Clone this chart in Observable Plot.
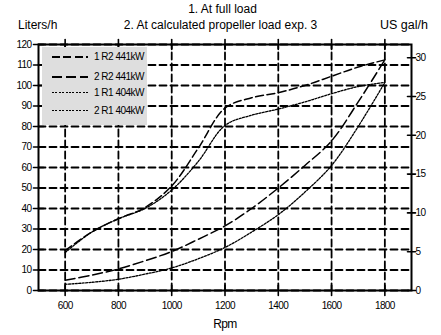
<!DOCTYPE html>
<html>
<head>
<meta charset="utf-8">
<script src="https://cdn.jsdelivr.net/npm/d3@7"></script>
<script src="https://cdn.jsdelivr.net/npm/@observablehq/plot@0.6"></script>
<style>
  html, body { margin: 0; padding: 0; background: #fff; }
  #wrap { position: relative; width: 441px; height: 335px; font-family: "Liberation Sans", Arial, sans-serif; color: #000; }
  #header { position: relative; width: 441px; height: 36px; }
  #header span { position: absolute; font-size: 12px; line-height: 14px; white-space: nowrap; }
  .chart text { letter-spacing: -0.6px; }
  #legend { position: absolute; left: 42px; top: 47px; width: 105px; height: 78px; background: #dedede; }
  #legend .row { position: absolute; left: 0; width: 105px; height: 14px; }
  #legend .sw { position: absolute; left: 10px; top: 6px; width: 36px; }
  #legend .lbl { position: absolute; left: 52px; top: 0; font-size: 10px; line-height: 14px; letter-spacing: -0.5px; white-space: nowrap; }
</style>
</head>
<body>
<div id="wrap">
  <div id="header">
    <span style="left:0;width:445px;text-align:center;top:2px;">1. At full load</span>
    <span style="left:0;width:441px;text-align:center;top:18px;">2. At calculated propeller load exp. 3</span>
    <span style="left:18px;top:18px;">Liters/h</span>
    <span style="left:380px;top:18px;font-size:12.5px;">US gal/h</span>
  </div>
  <div id="chart"></div>
  <div id="legend"></div>
</div>
<script>
// ---- data ----
const rpm    = [600, 700, 800, 900, 1000, 1100, 1200, 1300, 1400, 1500, 1600, 1700, 1800];
const fullR2 = [19.5, 28.5, 35, 40.5, 51, 69.5, 89, 94, 96.5, 100, 104.5, 109, 112.5];
const fullR1 = [18.5, 28.5, 35, 40, 49, 63, 80.5, 85.5, 88.5, 92, 96, 99.5, 101.5];
const propR2 = [5, 7.5, 10.5, 14.5, 19, 25, 31.5, 40, 50, 61, 73, 92, 112.5];
const propR1 = [3, 4, 5.5, 8, 11, 15.5, 21, 28.5, 37, 48, 61, 80, 101.5];
const seriesNames = ["1 R2 441kW", "2 R2 441kW", "1 R1 404kW", "2 R1 404kW"];
const xTicks = [600, 800, 1000, 1200, 1400, 1600, 1800];
const yTicks = [0, 10, 20, 30, 40, 50, 60, 70, 80, 90, 100, 110, 120];
const galTicks = [0, 5, 10, 15, 20, 25, 30];
const xDomain = [500, 1900];
const yDomain = [0, 120];
const LPG = 3.78541; // liters per US gallon

const lineStyles = [
  {dash: [8, 3.5], width: 1.5},
  {dash: [10, 4], width: 1.5},
  {dash: [2, 1.4], width: 1.3},
  {dash: [2, 1.4], width: 1.3}
];
const seriesValues = [fullR2, propR2, fullR1, propR1];
const tables = seriesValues.map(vals => rpm.map((r, i) => ({rpm: r, v: vals[i]})));
const galL = galTicks.map(g => g * LPG);

// grid lines as line segments spanning the scale domains
const gridV = xTicks.flatMap(x => yDomain.map(y => ({gx: x, gy: y, k: "v" + x})));
const gridH = yTicks.flatMap(y => xDomain.map(x => ({gx: x, gy: y, k: "h" + y})));
const gridStyle = {x: "gx", y: "gy", z: "k", stroke: "#000", strokeWidth: 1.8, strokeDasharray: "7,4"};

const tickShape = {draw(context, l) { context.moveTo(0, 0); context.lineTo(0, -l); }};
const tickOpts = (o) => ({stroke: "#000", strokeWidth: 1.6, shape: tickShape, anchor: "middle", ...o});

const chart = Plot.plot({
  width: 441, height: 299,
  marginLeft: 38, marginRight: 30, marginTop: 8, marginBottom: 45,
  className: "chart",
  style: {fontFamily: "Liberation Sans, Arial, sans-serif", fontSize: "10px", background: "transparent", overflow: "visible"},
  x: {domain: xDomain},
  y: {domain: yDomain},
  marks: [
    Plot.line(gridV, gridStyle),
    Plot.line(gridH, gridStyle),
    ...tables.map((t, i) => Plot.line(t, {
      x: "rpm", y: "v", curve: "catmull-rom",
      stroke: "#000", strokeWidth: lineStyles[i].width, strokeDasharray: lineStyles[i].dash.join(",")
    })),
    Plot.frame({stroke: "#000", strokeWidth: 2}),
    Plot.vector(xTicks, tickOpts({x: d => d, frameAnchor: "bottom", length: 10, rotate: 0})),
    Plot.vector(xTicks, tickOpts({x: d => d, frameAnchor: "top", length: 10, rotate: 0})),
    Plot.vector(yTicks, tickOpts({y: d => d, frameAnchor: "left", length: 10, rotate: 90})),
    Plot.vector(galL, tickOpts({y: d => d, frameAnchor: "right", length: 8, rotate: 90})),
    Plot.axisX(xTicks, {anchor: "bottom", tickSize: 0, tickPadding: 11, label: null, fontSize: 10, tickFormat: d => String(d)}),
    Plot.axisY(yTicks, {anchor: "left", tickSize: 0, tickPadding: 7, label: null, fontSize: 10, tickFormat: d => String(d)}),
    Plot.axisY(galL, {anchor: "right", tickSize: 0, tickPadding: 4, label: null, fontSize: 10,
      tickFormat: d => String(Math.round(d / LPG))}),
    Plot.text(["Rpm"], {frameAnchor: "bottom", dy: 37, fontSize: 12})
  ]
});
document.getElementById("chart").appendChild(chart);

// ---- legend (HTML, swatches drawn with CSS gradients) ----
const rowTops = [3, 23, 39, 57];
const legendBox = document.getElementById("legend");
seriesNames.forEach((name, i) => {
  const s = lineStyles[i];
  const row = document.createElement("div");
  row.className = "row";
  row.style.top = rowTops[i] + "px";
  const sw = document.createElement("div");
  sw.className = "sw";
  sw.style.height = s.width + "px";
  sw.style.background = `repeating-linear-gradient(to right, #000 0px, #000 ${s.dash[0]}px, transparent ${s.dash[0]}px, transparent ${s.dash[0] + s.dash[1]}px)`;
  const lbl = document.createElement("span");
  lbl.className = "lbl";
  lbl.textContent = name;
  row.appendChild(sw);
  row.appendChild(lbl);
  legendBox.appendChild(row);
});
</script>
</body>
</html>
